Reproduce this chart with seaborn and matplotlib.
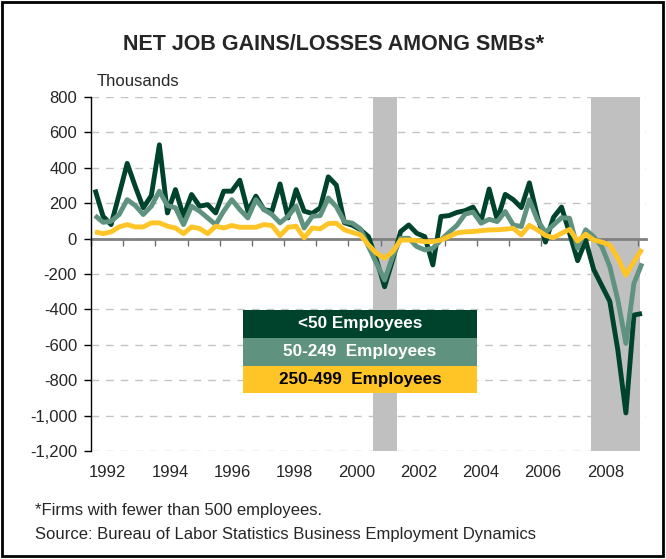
import numpy as np
import pandas as pd
import matplotlib
matplotlib.use("Agg")
import matplotlib.pyplot as plt
from matplotlib.patches import Rectangle
import seaborn as sns

# ---------------- data (thousands, quarterly, 1992Q1 .. 2009Q1) ----------------
quarters = pd.period_range("1992Q1", periods=69, freq="Q").astype(str).tolist()

under_50 = [277, 126, 79, 250, 425, 295, 174, 243, 530, 145,
            277, 126, 249, 183, 192, 145, 268, 268, 330, 155,
            240, 164, 155, 309, 117, 277, 155, 142, 174, 349,
            302, 90, 75, 50, 11, -121, -272, -121, 40, 77,
            30, 11, -149, 125, 130, 148, 158, 178, 100, 280,
            106, 250, 220, 175, 315, 125, -20, 120, 178, 30,
            -125, -10, -175, -265, -355, -630, -985, -432, -423]

emp_50_249 = [130, 92, 98, 136, 220, 187, 136, 183, 268, 187,
              174, 79, 183, 155, 117, 79, 155, 220, 164, 117,
              220, 164, 136, 89, 126, 183, 60, 126, 130, 230,
              180, 96, 87, 55, -45, -140, -234, -102, 2, 2,
              -45, -64, -55, -8, 35, 75, 138, 150, 87, 109,
              96, 153, 77, 68, 219, 106, 35, 77, 118, 115,
              -55, 50, 11, -45, -158, -347, -592, -253, -140]

emp_250_499 = [38, 28, 38, 66, 79, 66, 66, 89, 89, 70,
               60, 28, 66, 57, 28, 70, 60, 74, 64, 64,
               64, 79, 74, 17, 64, 70, 4, 60, 55, 85,
               87, 50, 35, 21, -36, -83, -111, -74, -8, -8,
               -11, -17, -17, -8, 12, 32, 38, 40, 45, 49,
               50, 53, 58, 21, 75, 49, 18, 5, 30, 52,
               -14, 25, -8, -20, -36, -111, -206, -130, -60]

series_names = ["<50 Employees", "50-249  Employees", "250-499  Employees"]
series_colors = ["#00432c", "#5f9380", "#ffc425"]
legend_text_colors = ["white", "white", "black"]

# recessions (in quarter-index units of the category axis)
recessions = [(34.5, 37.5), (61.6, 67.7)]

year_labels = ["1992", "1994", "1996", "1998", "2000", "2002", "2004", "2006", "2008"]
y_ticks = list(range(-1200, 801, 200))

# ---------------- build table ----------------
n = len(quarters)
df = pd.DataFrame({
    "idx": list(range(n)) * 3,
    "value": under_50 + emp_50_249 + emp_250_499,
    "series": [series_names[0]] * n + [series_names[1]] * n + [series_names[2]] * n,
})

sns.set_style("white")
plt.rcParams["font.family"] = ["Liberation Sans", "DejaVu Sans"]

fig = plt.figure(figsize=(6.66, 5.59), dpi=100)
ax = fig.add_axes([91 / 666, 1 - 451 / 559, 555 / 666, 354 / 559])

# recession bands
for s, e in recessions:
    ax.axvspan(s, e, color="#c0c0c0", lw=0, zorder=1)

sns.lineplot(data=df, x="idx", y="value", hue="series", hue_order=series_names,
             palette=dict(zip(series_names, series_colors)), linewidth=3.5,
             legend=False, sort=False, ax=ax, zorder=3)
for ln in ax.lines:
    ln.set_solid_joinstyle("round")
    ln.set_solid_capstyle("butt")

ax.set_xlim(-0.5, n - 0.5)
ax.set_ylim(-1200, 800)

# y axis
ax.set_yticks(y_ticks)
ax.set_yticklabels([f"{v:,}" for v in y_ticks])
ax.tick_params(axis="y", direction="out", length=5, width=1, color="black",
               pad=5, labelsize=12, left=True)
ax.yaxis.grid(True, color="#c4c4c4", linestyle=(0, (5.5, 5)), linewidth=1)
ax.xaxis.grid(False)
ax.set_axisbelow(True)

# x labels (every second year)
label_pos = [1.6 + 7.73 * k for k in range(len(year_labels))]
ax.set_xticks(label_pos)
ax.set_xticklabels(year_labels)
ax.tick_params(axis="x", length=0, pad=10, labelsize=12)
ax.set_xlabel("")
ax.set_ylabel("")

for sp in ["top", "right", "bottom"]:
    ax.spines[sp].set_visible(False)
ax.spines["left"].set_color("black")
ax.spines["left"].set_linewidth(1)

# zero line with yearly tick marks
zero_frac = (0 - (-1200)) / (800 - (-1200))
sec = ax.secondary_xaxis(zero_frac)
sec.set_xticks(np.arange(-0.5, n, 4))
sec.tick_params(axis="x", direction="in", length=5, width=1, color="#707070",
                labeltop=False, labelbottom=False)
for sp in ["top", "bottom"]:
    sec.spines[sp].set_color("#808080")
    sec.spines[sp].set_linewidth(2)
sec.set_zorder(2)

# legend: stacked colored rows
lx0, lx1 = (243 - 91) / 555, (477 - 91) / 555
row_edges = [(451 - 310) / 354, (451 - 337.5) / 354, (451 - 365.5) / 354, (451 - 393) / 354]
for k, (name, col, tcol) in enumerate(zip(series_names, series_colors, legend_text_colors)):
    top, bot = row_edges[k], row_edges[k + 1]
    ax.add_patch(Rectangle((lx0, bot), lx1 - lx0, top - bot, transform=ax.transAxes,
                           facecolor=col, edgecolor="none", zorder=5))
    ax.text((lx0 + lx1) / 2, (top + bot) / 2, name, transform=ax.transAxes,
            ha="center", va="center", color=tcol, fontsize=12.3,
            fontweight="bold", zorder=6)

# texts
fig.text(334 / 666, 1 - 45 / 559, "NET JOB GAINS/LOSSES AMONG SMBs*",
         ha="center", va="center", fontsize=15.5, fontweight="bold")
fig.text(97 / 666, 1 - 82 / 559, "Thousands", ha="left", va="center", fontsize=12)
fig.text(35 / 666, 1 - 510 / 559, "*Firms with fewer than 500 employees.",
         ha="left", va="center", fontsize=12)
fig.text(35 / 666, 1 - 534 / 559,
         "Source: Bureau of Labor Statistics Business Employment Dynamics",
         ha="left", va="center", fontsize=12)

# outer frame
fig.patches.append(Rectangle((2 / 666, 3 / 559), 661 / 666, 554 / 559,
                             transform=fig.transFigure, fill=False,
                             edgecolor="black", linewidth=2))

fig.savefig("out.png", dpi=100)
